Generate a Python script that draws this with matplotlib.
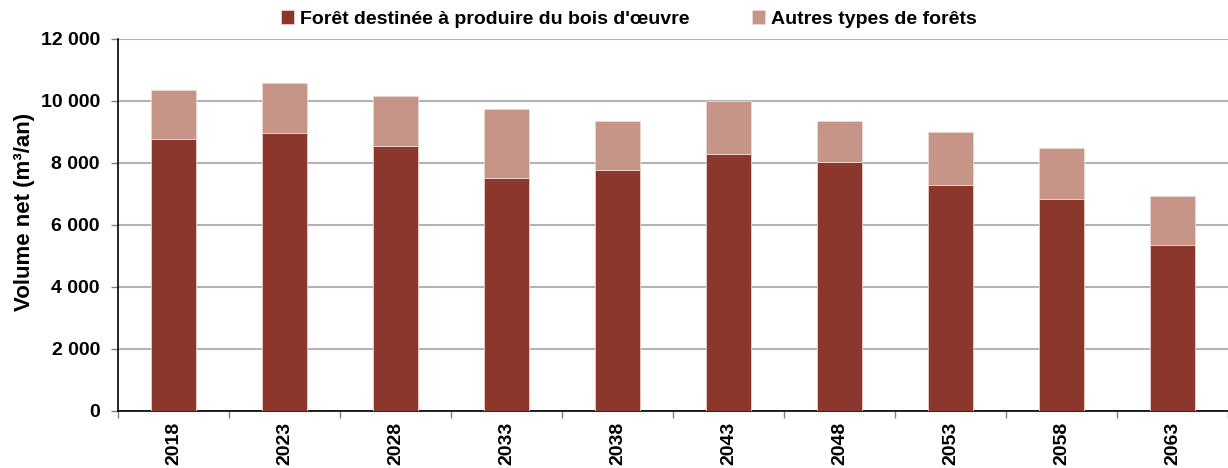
import matplotlib
matplotlib.use("Agg")
import matplotlib.pyplot as plt
import numpy as np
from matplotlib.ticker import FuncFormatter

YEARS = ["2018", "2023", "2028", "2033", "2038", "2043", "2048", "2053", "2058", "2063"]
BOIS_OEUVRE = [8760, 8970, 8560, 7510, 7760, 8300, 8030, 7280, 6830, 5350]
TOTAL = [10370, 10570, 10150, 9730, 9370, 10000, 9340, 9000, 8480, 6950]
AUTRES = [t - b for t, b in zip(TOTAL, BOIS_OEUVRE)]

DARK = "#8B372B"
LIGHT = "#C79587"

plt.rcParams["font.family"] = ["Liberation Sans", "DejaVu Sans"]
plt.rcParams["font.weight"] = "bold"

fig = plt.figure(figsize=(12.28, 4.68), dpi=100, facecolor="white")
ax = fig.add_axes([0.0961, 0.1218, 0.9039, 0.7949])

x = np.arange(len(YEARS))
w = 0.41
ax.bar(x, BOIS_OEUVRE, w, color=DARK, edgecolor="#E8CFC8", linewidth=0.6,
       label="Forêt destinée à produire du bois d'œuvre", zorder=3)
ax.bar(x, AUTRES, w, bottom=BOIS_OEUVRE, color=LIGHT, edgecolor="#EBD8D2",
       linewidth=0.6, label="Autres types de forêts", zorder=3)

ax.set_xlim(-0.5, len(YEARS) - 0.5)
ax.set_ylim(0, 12000)
ax.set_yticks(range(0, 12001, 2000))
ax.yaxis.set_major_formatter(FuncFormatter(lambda v, p: f"{int(v):,}".replace(",", " ")))
ax.yaxis.grid(True, color="#B4B4B4", linewidth=1.5, zorder=0)

ax.set_xticks(x)
ax.set_xticklabels(YEARS, rotation=90, fontsize=14, fontweight="bold")
ax.set_xticks(np.arange(-0.5, len(YEARS), 1), minor=True)
ax.tick_params(axis="x", which="major", length=0, pad=8)
ax.tick_params(axis="x", which="minor", length=5, color="#808080", width=1)
ax.tick_params(axis="y", length=5, color="#808080", width=1, labelsize=14, pad=8)
for lab in ax.get_yticklabels():
    lab.set_fontweight("bold")

for side in ("top", "right"):
    ax.spines[side].set_visible(False)
ax.spines["left"].set_linewidth(1.2)
ax.spines["bottom"].set_linewidth(1.2)

ax.set_ylabel("Volume net (m³/an)", fontsize=16, fontweight="bold")
ax.yaxis.set_label_coords(-0.075, 0.535)

fig.legend(loc="upper center", bbox_to_anchor=(0.512, 1.015), ncol=2, frameon=False,
           handlelength=0.7, handleheight=0.7, handletextpad=0.3,
           columnspacing=3.2, prop={"weight": "bold", "size": 14})

fig.savefig("out.png", dpi=100, facecolor="white")
